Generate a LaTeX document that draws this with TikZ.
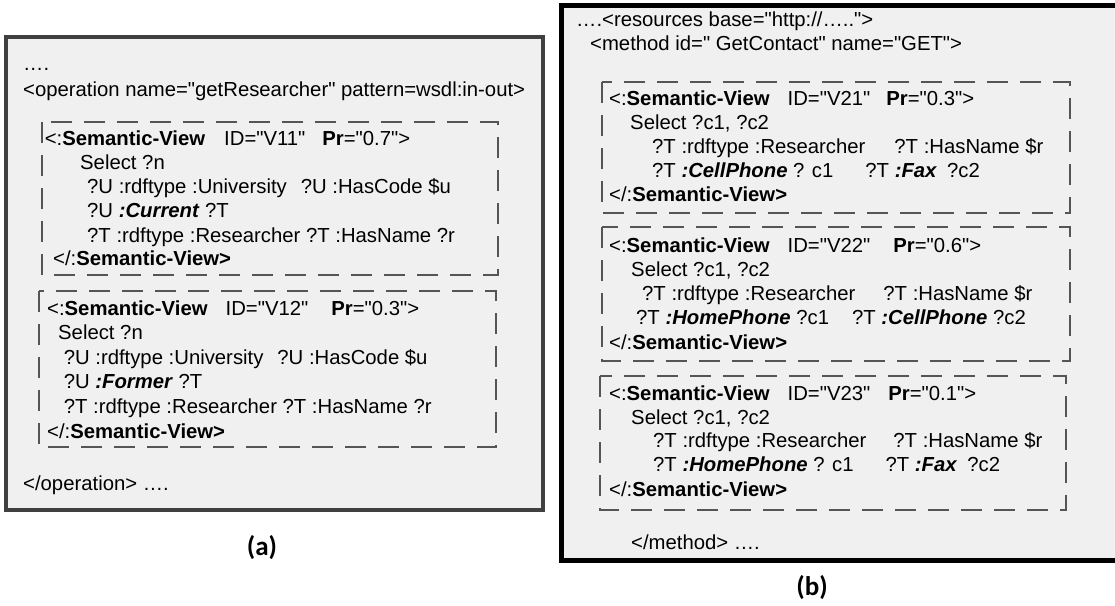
\documentclass[tikz,border=0pt]{standalone}
\usepackage{fontspec}
\setmainfont{Liberation Sans}[Ligatures=TeXOff]
\newfontfamily\captionfont{Carlito}
\definecolor{panelfill}{HTML}{F0F0F0}
\definecolor{panelrimA}{HTML}{404040}
\definecolor{viewrim}{HTML}{555555}
\newcommand{\kw}[1]{\textbf{#1}}
\newcommand{\rel}[1]{\textbf{\textit{#1}}}
\begin{document}
\begin{tikzpicture}[x=1pt,y=-1pt,
  code/.style={anchor=base west, inner sep=0pt, font=\fontsize{20.3}{24}\selectfont},
  caption/.style={inner sep=0pt, font=\captionfont\bfseries\fontsize{27}{30}\selectfont},
  panelA/.style={draw=panelrimA, line width=4pt, fill=panelfill},
  panelB/.style={draw=black, line width=5pt, fill=panelfill},
  viewbox/.style={draw=viewrim, line width=2.2pt, dash pattern=on 21pt off 12pt}]
\useasboundingbox (0,0) rectangle (1115,605);
\clip (0,0) rectangle (1115,605);
\fill[white] (0,0) rectangle (1115,605);

% ---------- panel (a): WSDL operation ----------
\draw[panelA] (6,37) rectangle (543,510);
\node[code] (aDots) at (23,70) {….};
\node[code] (aOp) at (23,96.5) {<operation name="getResearcher" pattern=wsdl:in-out>};

\draw[viewbox] (42,122) rectangle (498,275);
\node[code] (v11h) at (44.6,145) {<:\kw{Semantic-View}\hspace{19pt}ID="V11"\hspace{17pt}\kw{Pr}="0.7">};
\node[code] (v11s) at (80,169) {Select ?n};
\node[code] (v11a) at (87,193) {?U :rdftype :University\hspace{14pt}?U :HasCode \$u};
\node[code] (v11b) at (87,217) {?U \rel{:Current} ?T};
\node[code] (v11c) at (87,242) {?T :rdftype :Researcher ?T :HasName ?r};
\node[code] (v11e) at (53,265) {</:\kw{Semantic-View>}};

\draw[viewbox] (39,291) rectangle (496,447);
\node[code] (v12h) at (47,315) {<:\kw{Semantic-View}\hspace{18pt}ID="V12"\hspace{23pt}\kw{Pr}="0.3">};
\node[code] (v12s) at (58,339) {Select ?n};
\node[code] (v12a) at (63.6,364) {?U :rdftype :University\hspace{14pt}?U :HasCode \$u};
\node[code] (v12b) at (63.6,388) {?U \rel{:Former} ?T};
\node[code] (v12c) at (63.6,413) {?T :rdftype :Researcher ?T :HasName ?r};
\node[code] (v12e) at (47,438) {</:\kw{Semantic-View>}};

\node[code] (aEnd) at (23,490) {</operation> ….};
\node[caption] (capA) at (262,548) {(a)};

% ---------- panel (b): REST resource ----------
\draw[panelB] (561,5) rectangle (1125,560);
\node[code] (bRes) at (576,26) {….<resources base="http://….."{}>};
\node[code] (bMeth) at (590,50) {<method id=" GetContact" name="GET">};

\draw[viewbox] (602,82) rectangle (1070,213);
\node[code] (v21h) at (609,105) {<:\kw{Semantic-View}\hspace{18pt}ID="V21"\hspace{16pt}\kw{Pr}="0.3">};
\node[code] (v21s) at (630,129) {Select ?c1, ?c2};
\node[code] (v21a) at (652,153) {?T :rdftype :Researcher\hspace{29pt}?T :HasName \$r};
\node[code] (v21b) at (652,177) {?T \rel{:CellPhone} ? c1\hspace{32pt}?T \rel{:Fax}\hspace{10pt}?c2};
\node[code] (v21e) at (609,201) {</:\kw{Semantic-View>}};

\draw[viewbox] (602,227) rectangle (1070,361);
\node[code] (v22h) at (609,252) {<:\kw{Semantic-View}\hspace{18pt}ID="V22"\hspace{23pt}\kw{Pr}="0.6">};
\node[code] (v22s) at (631,276) {Select ?c1, ?c2};
\node[code] (v22a) at (642,300) {?T :rdftype :Researcher\hspace{28pt}?T :HasName \$r};
\node[code] (v22b) at (636,324) {?T \rel{:HomePhone} ?c1\hspace{23pt}?T \rel{:CellPhone} ?c2};
\node[code] (v22e) at (609,349) {</:\kw{Semantic-View>}};

\draw[viewbox] (600,376) rectangle (1066,510);
\node[code] (v23h) at (609,400) {<:\kw{Semantic-View}\hspace{18pt}ID="V23"\hspace{18pt}\kw{Pr}="0.1">};
\node[code] (v23s) at (631,424) {Select ?c1, ?c2};
\node[code] (v23a) at (653,447) {?T :rdftype :Researcher\hspace{27pt}?T :HasName \$r};
\node[code] (v23b) at (653,471) {?T \rel{:HomePhone} ? c1\hspace{32pt}?T \rel{:Fax}\hspace{10pt}?c2};
\node[code] (v23e) at (609,496) {</:\kw{Semantic-View>}};

\node[code] (bEnd) at (631,549) {</method> ….};
\node[caption] (capB) at (812,588) {(b)};
\end{tikzpicture}
\end{document}
